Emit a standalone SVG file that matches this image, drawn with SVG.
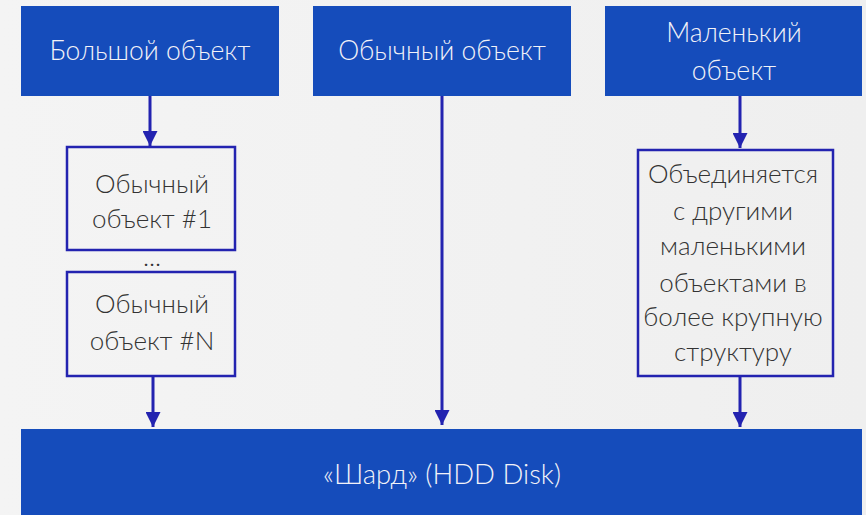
<svg xmlns="http://www.w3.org/2000/svg" width="866" height="515" viewBox="0 0 866 515">
<defs>
<linearGradient id="bg" x1="0" y1="0" x2="1" y2="0">
<stop offset="0" stop-color="#f4f4f4"/>
<stop offset="1" stop-color="#efefef"/>
</linearGradient>
<marker id="ah" viewBox="0 0 10 10" refX="10" refY="5" markerWidth="5" markerHeight="5" orient="auto" markerUnits="strokeWidth">
<path d="M0,0 L10,5 L0,10 Z" fill="#2323b0"/>
</marker>
<style>
.blue{fill:#154cbb}
.wt{fill:#f2f2f8;font-family:Lato,"Noto Sans",sans-serif;font-weight:300;font-size:26.5px;text-anchor:middle}
.box{fill:none;stroke:#2323b0;stroke-width:2.5}
.dt{fill:#333333;font-family:Lato,"Noto Sans",sans-serif;font-weight:300;font-size:26px;text-anchor:middle}
.con{stroke:#2323b0;stroke-width:3;fill:none;marker-end:url(#ah)}
</style>
</defs>
<rect width="866" height="515" fill="url(#bg)"/>
<g id="big">
<rect class="blue" x="21" y="6" width="258" height="90"/>
<text class="wt" x="150" y="60">Большой объект</text>
</g>
<g id="normal">
<rect class="blue" x="313" y="6" width="258" height="90"/>
<text class="wt" x="442" y="60">Обычный объект</text>
</g>
<g id="small">
<rect class="blue" x="605" y="6" width="257" height="90"/>
<text class="wt" x="734" y="42">Маленький</text>
<text class="wt" x="734" y="80">объект</text>
</g>
<g id="obj1">
<rect class="box" x="67" y="147" width="168" height="103"/>
<text class="dt" x="152" y="193">Обычный</text>
<text class="dt" x="152" y="228">объект #1</text>
</g>
<g id="dots">
<text class="dt" x="152" y="266">...</text>
</g>
<g id="objN">
<rect class="box" x="67" y="272" width="168" height="104"/>
<text class="dt" x="152" y="313">Обычный</text>
<text class="dt" x="152" y="350">объект #N</text>
</g>
<g id="merge">
<rect class="box" x="638" y="150" width="195" height="226"/>
<text class="dt" x="733" y="183" font-size="24.5">Объединяется</text>
<text class="dt" x="733" y="220" font-size="24.5">с другими</text>
<text class="dt" x="733" y="255" font-size="24.5">маленькими</text>
<text class="dt" x="733" y="292" font-size="24.5">объектами в</text>
<text class="dt" x="733" y="326" font-size="24.5">более крупную</text>
<text class="dt" x="733" y="361" font-size="24.5">структуру</text>
</g>
<g id="shard">
<rect class="blue" x="21" y="429" width="841" height="86"/>
<text class="wt" x="442" y="484" font-size="27" textLength="238" lengthAdjust="spacingAndGlyphs">«Шард» (HDD Disk)</text>
</g>
<g id="connectors">
<line class="con" x1="150" y1="96" x2="150" y2="146"/>
<line class="con" x1="153" y1="376" x2="153" y2="427"/>
<line class="con" x1="442" y1="96" x2="442" y2="425"/>
<line class="con" x1="740" y1="96" x2="740" y2="148"/>
<line class="con" x1="740" y1="376" x2="740" y2="427"/>
</g>
</svg>
